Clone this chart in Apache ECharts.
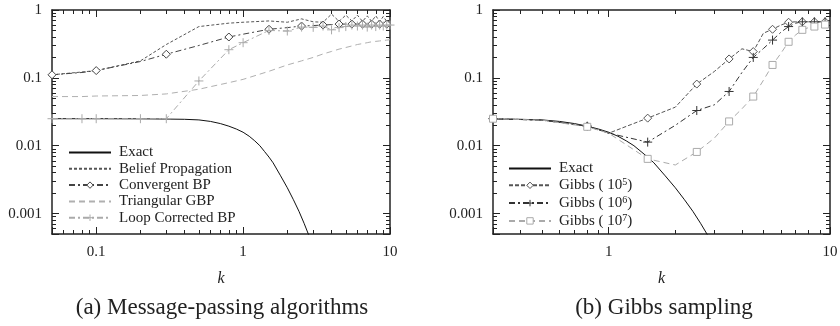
<!DOCTYPE html>
<html><head><meta charset="utf-8">
<script src="https://cdn.jsdelivr.net/npm/echarts@6/dist/echarts.min.js"></script>
<style>html,body{margin:0;padding:0;background:#fff}#c{width:840px;height:326px}</style>
</head><body><div id="c"></div>
<script>
// ---------- data ----------
const kGrid = [0.05, 0.08, 0.1, 0.2, 0.3, 0.5, 0.8, 1, 1.5, 2, 2.5, 3, 3.5, 4, 4.5, 5, 5.5, 6, 6.5, 7, 7.5, 8, 8.5, 9, 9.5, 10];
const beliefProp    = [0.111, 0.122, 0.128, 0.178, 0.31, 0.57, 0.64, 0.66, 0.69, 0.66, 0.74, 0.67, 0.66, 0.87, 0.68, 0.84, 0.69, 0.84, 0.68, 0.82, 0.68, 0.82, 0.68, 0.80, 0.68, 0.70];
const convergentBP  = [0.111, 0.12, 0.128, 0.174, 0.223, 0.30, 0.40, 0.44, 0.52, 0.55, 0.58, 0.59, 0.60, 0.61, 0.62, 0.62, 0.62, 0.62, 0.62, 0.62, 0.62, 0.62, 0.62, 0.62, 0.62, 0.62];
const triangularGBP = [0.053, 0.053, 0.054, 0.055, 0.058, 0.068, 0.085, 0.095, 0.125, 0.155, 0.178, 0.20, 0.225, 0.245, 0.265, 0.28, 0.295, 0.31, 0.32, 0.33, 0.34, 0.345, 0.35, 0.355, 0.36, 0.365];
const loopCorrected = [0.025, 0.025, 0.025, 0.025, 0.025, 0.09, 0.26, 0.33, 0.50, 0.49, 0.56, 0.555, 0.58, 0.51, 0.55, 0.57, 0.60, 0.58, 0.60, 0.56, 0.60, 0.57, 0.60, 0.58, 0.60, 0.60];

const kExact = [0.05, 0.1, 0.2, 0.3, 0.4, 0.5, 0.6, 0.7, 0.8, 0.9, 1.0, 1.1, 1.2, 1.3, 1.4, 1.5, 1.6, 1.8, 2.0, 2.2, 2.4, 2.6, 2.8, 3.0];
const exact  = [0.025, 0.025, 0.0249, 0.0247, 0.0245, 0.024, 0.0228, 0.0212, 0.0194, 0.0176, 0.0158, 0.0138, 0.0118, 0.0100, 0.0082, 0.0068, 0.0056, 0.0036, 0.0024, 0.0016, 0.00108, 0.00072, 0.00048, 0.00031];

const kGibbs = [0.3, 0.5, 0.8, 1, 1.5, 2, 2.5, 3, 3.5, 4, 4.5, 5, 5.5, 6, 6.5, 7, 7.5, 8, 8.5, 9, 9.5, 10];
const gibbs5 = [0.025, 0.0238, 0.0195, 0.0153, 0.0255, 0.037, 0.081, 0.124, 0.19, 0.268, 0.244, 0.455, 0.52, 0.60, 0.66, 0.67, 0.67, 0.67, 0.67, 0.67, 0.67, 0.67];
const gibbs6 = [0.025, 0.0238, 0.0194, 0.0153, 0.0113, 0.020, 0.033, 0.040, 0.063, 0.12, 0.20, 0.27, 0.36, 0.47, 0.57, 0.64, 0.67, 0.67, 0.67, 0.67, 0.67, 0.67];
const gibbs7 = [0.025, 0.0238, 0.019, 0.0153, 0.0064, 0.0052, 0.0081, 0.0129, 0.0228, 0.035, 0.053, 0.092, 0.155, 0.23, 0.34, 0.43, 0.51, 0.55, 0.57, 0.59, 0.61, 0.62];

const namesA = ['Exact', 'Belief Propagation', 'Convergent BP', 'Triangular GBP', 'Loop Corrected BP'];
const namesB = ['Exact', 'Gibbs ( 10^5)', 'Gibbs ( 10^6)', 'Gibbs ( 10^7)'];
const captions = ['(a) Message-passing algorithms', '(b) Gibbs sampling'];

// ---------- helpers ----------
const FONT = '"Liberation Serif", "Times New Roman", serif';
const INK = '#222';
const CLEAR = 'rgba(0,0,0,0)';
function pow10Label(v) {
  const l = Math.log10(v);
  if (Math.abs(l - Math.round(l)) > 1e-6) return '';
  return String(Number(v.toPrecision(6)));
}
// every = true: marker on every other point only
function pts(ks, vs, every) {
  return ks.map((k, i) => {
    const it = { value: [k, vs[i]] };
    if (every && i % 2 === 1) it.symbol = 'none';
    return it;
  });
}
const DIAMOND = 'path://M5 0L10 5L5 10L0 5Z';
const PLUS = 'path://M5 0L5 10M0 5L10 5';

function xAx(grid, min, max, pos, labels) {
  return {
    type: 'log', logBase: 10, gridIndex: grid, min: min, max: max, position: pos,
    axisLine: { show: true, onZero: false, lineStyle: { color: INK, width: 1.5 } },
    axisTick: { show: true, inside: true, length: 7, lineStyle: { color: INK, width: 1 } },
    minorTick: { show: true, splitNumber: 9, length: 4, lineStyle: { color: INK, width: 1 } },
    splitLine: { show: false }, minorSplitLine: { show: false },
    axisLabel: { show: labels, margin: 11, formatter: pow10Label, fontFamily: FONT, fontSize: 15, color: INK },
    name: labels ? 'k' : '', nameLocation: 'middle', nameGap: 37,
    nameTextStyle: { fontFamily: FONT, fontStyle: 'italic', fontSize: 16, color: INK }
  };
}
function yAx(grid, pos, labels) {
  return {
    type: 'log', logBase: 10, gridIndex: grid, min: 0.0005, max: 1, position: pos,
    axisLine: { show: true, onZero: false, lineStyle: { color: INK, width: 1.5 } },
    axisTick: { show: true, inside: true, length: 7, lineStyle: { color: INK, width: 1 } },
    minorTick: { show: true, splitNumber: 9, length: 4, lineStyle: { color: INK, width: 1 } },
    splitLine: { show: false }, minorSplitLine: { show: false },
    axisLabel: { show: labels, margin: 10, formatter: pow10Label, fontFamily: FONT, fontSize: 15, color: INK }
  };
}
function line(name, xi, ks, vs, color, dash, symbol, size, every) {
  return {
    type: 'line', name: name, xAxisIndex: xi, yAxisIndex: xi,
    data: pts(ks, vs, every),
    symbol: symbol || 'none', symbolSize: size || 7, showSymbol: !!symbol,
    lineStyle: { color: color, width: 1, type: dash },
    itemStyle: symbol ? { color: '#fff', borderColor: color, borderWidth: 1 }
                      : { color: CLEAR, borderColor: CLEAR, borderWidth: 0 },
    emphasis: { disabled: true }, silent: true, clip: true, z: 3
  };
}

const series = [
  line(namesA[0], 0, kExact, exact, '#111', 'solid'),
  line(namesA[1], 0, kGrid, beliefProp, '#555', [3, 2]),
  line(namesA[2], 0, kGrid, convergentBP, '#444', [6, 3, 2, 3], DIAMOND, 8, true),
  line(namesA[3], 0, kGrid, triangularGBP, '#b0b0b0', [6, 4]),
  line(namesA[4], 0, kGrid, loopCorrected, '#aaa', [6, 3, 2, 3], PLUS, 9, false),
  line(namesB[0], 1, kExact, exact, '#111', 'solid'),
  line(namesB[1], 1, kGibbs, gibbs5, '#555', [4, 2], DIAMOND, 8, true),
  line(namesB[2], 1, kGibbs, gibbs6, '#333', [6, 3, 2, 3], PLUS, 9, true),
  line(namesB[3], 1, kGibbs, gibbs7, '#aaa', [6, 4], 'rect', 7, true)
];

function legendText(name) {
  const m = name.match(/^(.*)\^(\d+)(.*)$/);
  return m ? m[1] + '{sup|' + m[2] + '}' + m[3] : name;
}
const legendBase = {
  orient: 'vertical', itemWidth: 42, itemHeight: 8, selectedMode: false,
  padding: 0, inactiveColor: '#ccc',
  itemStyle: { borderWidth: 1 },
  formatter: legendText,
  textStyle: { fontFamily: FONT, fontSize: 15, color: INK, lineHeight: 15, padding: [0, 0, 0, 3],
    rich: { sup: { fontFamily: FONT, fontSize: 10, lineHeight: 15, verticalAlign: 'top', padding: [0, 0, 6, 0] } } }
};

const chart = echarts.init(document.getElementById('c'), null, { renderer: 'canvas' });
chart.setOption({
  animation: false,
  backgroundColor: '#fff',
  grid: [
    { left: 52, right: 450, top: 10, bottom: 92, containLabel: false, outerBoundsMode: 'none' },
    { left: 493, right: 10, top: 10, bottom: 92, containLabel: false, outerBoundsMode: 'none' }
  ],
  xAxis: [
    xAx(0, 0.05, 10, 'bottom', true),
    xAx(1, 0.3, 10, 'bottom', true),
    xAx(0, 0.05, 10, 'top', false),
    xAx(1, 0.3, 10, 'top', false)
  ],
  yAxis: [
    yAx(0, 'left', true),
    yAx(1, 'left', true),
    yAx(0, 'right', false),
    yAx(1, 'right', false)
  ],
  legend: [
    Object.assign({}, legendBase, { data: namesA, left: 68, top: 145, itemGap: 1.3 }),
    Object.assign({}, legendBase, { data: namesB, left: 508, top: 161, itemGap: 1.8 })
  ],
  graphic: [
    { type: 'text', x: 222, y: 308, silent: true,
      style: { text: captions[0], font: '23px "Liberation Serif"', fill: INK, align: 'center', verticalAlign: 'middle' } },
    { type: 'text', x: 664, y: 308, silent: true,
      style: { text: captions[1], font: '23px "Liberation Serif"', fill: INK, align: 'center', verticalAlign: 'middle' } }
  ],
  series: series
});
</script>
</body></html>
